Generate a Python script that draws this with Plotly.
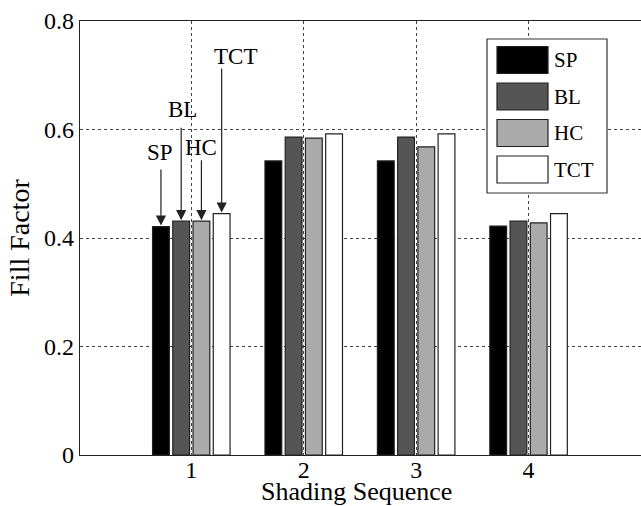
import plotly.graph_objects as go

categories = [1, 2, 3, 4]
series_names = ["SP", "BL", "HC", "TCT"]
sp = [0.421, 0.542, 0.542, 0.422]
bl = [0.431, 0.586, 0.586, 0.431]
hc = [0.431, 0.584, 0.568, 0.428]
tct = [0.445, 0.592, 0.592, 0.445]
y_ticks = [0, 0.2, 0.4, 0.6, 0.8]
y_tick_labels = ["0", "0.2", "0.4", "0.6", "0.8"]
colors = ["#000000", "#555555", "#aaaaaa", "#ffffff"]

series = [sp, bl, hc, tct]
FONT = "Liberation Serif"

fig = go.Figure()
for name, vals, col in zip(series_names, series, colors):
    fig.add_trace(go.Bar(
        x=categories, y=vals, name=name,
        marker=dict(color=col, line=dict(color="#222222", width=1.2)),
        showlegend=False,
    ))

bargap = 0.28
slot = (1 - bargap) / len(series)
offsets = [(-(len(series) - 1) / 2 + i) * slot for i in range(len(series))]

# Arrow annotations for group 1
arrow_tails = [0.529, 0.606, 0.546, 0.715]
label_pos = [(0.724, 0.557), (0.924, 0.636), (1.089, 0.566), (1.392, 0.734)]
annotations = []
for i, name in enumerate(series_names):
    bx = categories[0] + offsets[i]
    annotations.append(dict(
        x=bx, y=series[i][0], ax=bx, ay=arrow_tails[i],
        xref="x", yref="y", axref="x", ayref="y",
        text="", showarrow=True, arrowhead=2, arrowsize=1.7,
        arrowwidth=1.2, arrowcolor="#222222", standoff=1,
    ))
    annotations.append(dict(
        x=label_pos[i][0], y=label_pos[i][1], xref="x", yref="y",
        text=name, showarrow=False, xanchor="center", yanchor="middle",
        font=dict(family=FONT, size=23, color="#000000"),
    ))

# Custom legend (paper coordinates)
shapes = []
lx0, lx1, ly0, ly1 = 487, 607, 39, 193
W, H, L, T = 641, 506, 80, 21
PW, PH = W - L, 455 - T


def px(x):
    return (x - L) / PW


def py(y):
    return (455 - y) / PH


shapes.append(dict(type="rect", xref="paper", yref="paper",
                   x0=px(lx0), x1=px(lx1), y0=py(ly1), y1=py(ly0),
                   fillcolor="#ffffff", line=dict(color="#333333", width=1.2),
                   layer="above"))
for i, name in enumerate(series_names):
    cy = 60 + i * 36.5
    shapes.append(dict(type="rect", xref="paper", yref="paper",
                       x0=px(497), x1=px(548), y0=py(cy + 13.5), y1=py(cy - 13.5),
                       fillcolor=colors[i], line=dict(color="#222222", width=1.2),
                       layer="above"))
    annotations.append(dict(x=px(552), y=py(cy), xref="paper", yref="paper",
                            text=name, showarrow=False, xanchor="left",
                            yanchor="middle",
                            font=dict(family=FONT, size=21, color="#000000")))

# x-axis title placed explicitly
annotations.append(dict(x=px(356), y=py(475), xref="paper", yref="paper",
                        text="Shading Sequence", showarrow=False,
                        xanchor="center", yanchor="top",
                        font=dict(family=FONT, size=26, color="#000000")))

fig.update_layout(
    width=W, height=H,
    margin=dict(l=L, r=0, t=T, b=H - 455),
    paper_bgcolor="#ffffff", plot_bgcolor="#ffffff",
    barmode="group", bargap=bargap, bargroupgap=0.17,
    font=dict(family=FONT, size=22, color="#000000"),
    annotations=annotations, shapes=shapes,
    xaxis=dict(
        range=[0.01, 5.0], tickvals=categories,
        ticktext=[str(c) for c in categories],
        showgrid=True, gridcolor="#444444", griddash="3px,3px", gridwidth=1,
        showline=True, linecolor="#222222", linewidth=1.2, mirror=True,
        ticks="", zeroline=False, automargin=False, ticklabelstandoff=-7,
        tickfont=dict(family=FONT, size=24),
    ),
    yaxis=dict(
        range=[0, 0.8], tickvals=y_ticks, ticktext=y_tick_labels,
        showgrid=True, gridcolor="#444444", griddash="3px,3px", gridwidth=1,
        showline=True, linecolor="#222222", linewidth=1.2, mirror=False,
        ticks="", zeroline=False, automargin=False,
        title=dict(text="Fill Factor", font=dict(family=FONT, size=28), standoff=6),
        tickfont=dict(family=FONT, size=24),
    ),
)

fig.write_html("out.html")
